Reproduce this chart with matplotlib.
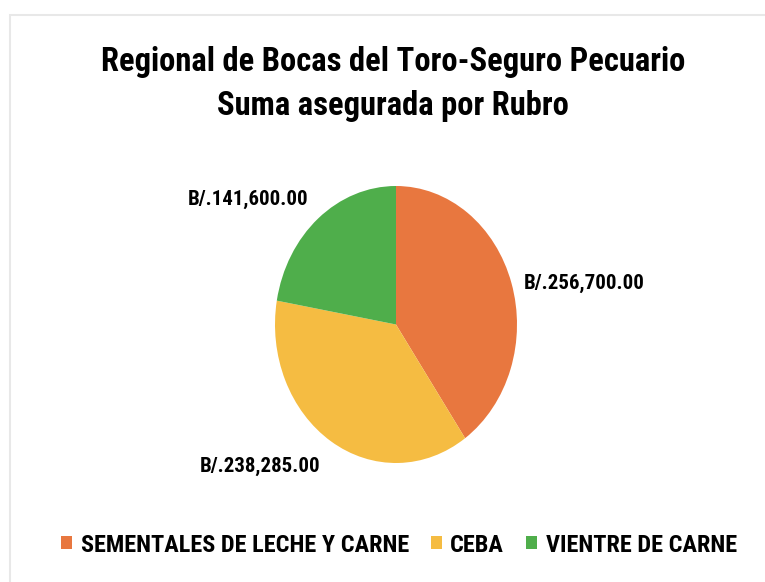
import matplotlib
matplotlib.use("Agg")
import matplotlib.pyplot as plt
from matplotlib.patches import Patch

# data
rubros = ["SEMENTALES DE LECHE Y CARNE", "CEBA", "VIENTRE DE CARNE"]
montos = [256700.00, 238285.00, 141600.00]
colores = ["#E8773F", "#F5BC42", "#4FAE4B"]

plt.rcParams["font.family"] = ["Roboto Condensed", "Fira Sans Condensed", "DejaVu Sans"]

fig = plt.figure(figsize=(7.65, 5.82), dpi=100)
W, H = 765, 582

# pie is a bit taller than wide in the original
ax = fig.add_axes([275 / W, 1 - 463 / H, 242 / W, 277 / H])
wedges, _ = ax.pie(montos, colors=colores, startangle=90, counterclock=False,
                   radius=1.0)
ax.set_aspect("auto")
ax.set_xlim(-1, 1)
ax.set_ylim(-1, 1)
ax.axis("off")

# label centres in figure pixels
label_pos = [(584, 283), (260, 466), (248, 199)]
for m, (px, py) in zip(montos, label_pos):
    fig.text(px / W, 1 - py / H, "B/.{:,.2f}".format(m), ha="center", va="center",
             fontsize=15, fontweight="bold", color="black")

fig.text(393 / W, 1 - 62 / H, "Regional de Bocas del Toro-Seguro Pecuario",
         ha="center", va="center", fontsize=23.5, fontweight="bold", color="black")
fig.text(393 / W, 1 - 106 / H, "Suma asegurada por Rubro",
         ha="center", va="center", fontsize=23.5, fontweight="bold", color="black")

handles = [Patch(facecolor=c, edgecolor="none") for c in colores]
fig.legend(handles, rubros, loc="center", bbox_to_anchor=(399 / W, 1 - 545 / H),
           ncol=3, frameon=False, handlelength=0.45, handleheight=0.45,
           handletextpad=0.35, columnspacing=0.9,
           prop={"size": 17.5, "weight": "bold"})

# faint frame of the original chart area
fr = plt.Rectangle((10 / W, -0.1), 1.2, 1.1 - 15 / H, transform=fig.transFigure,
                   fill=False, edgecolor="#e8e8e8", lw=1.5)
fig.patches.append(fr)

fig.savefig("out.png", dpi=100)
